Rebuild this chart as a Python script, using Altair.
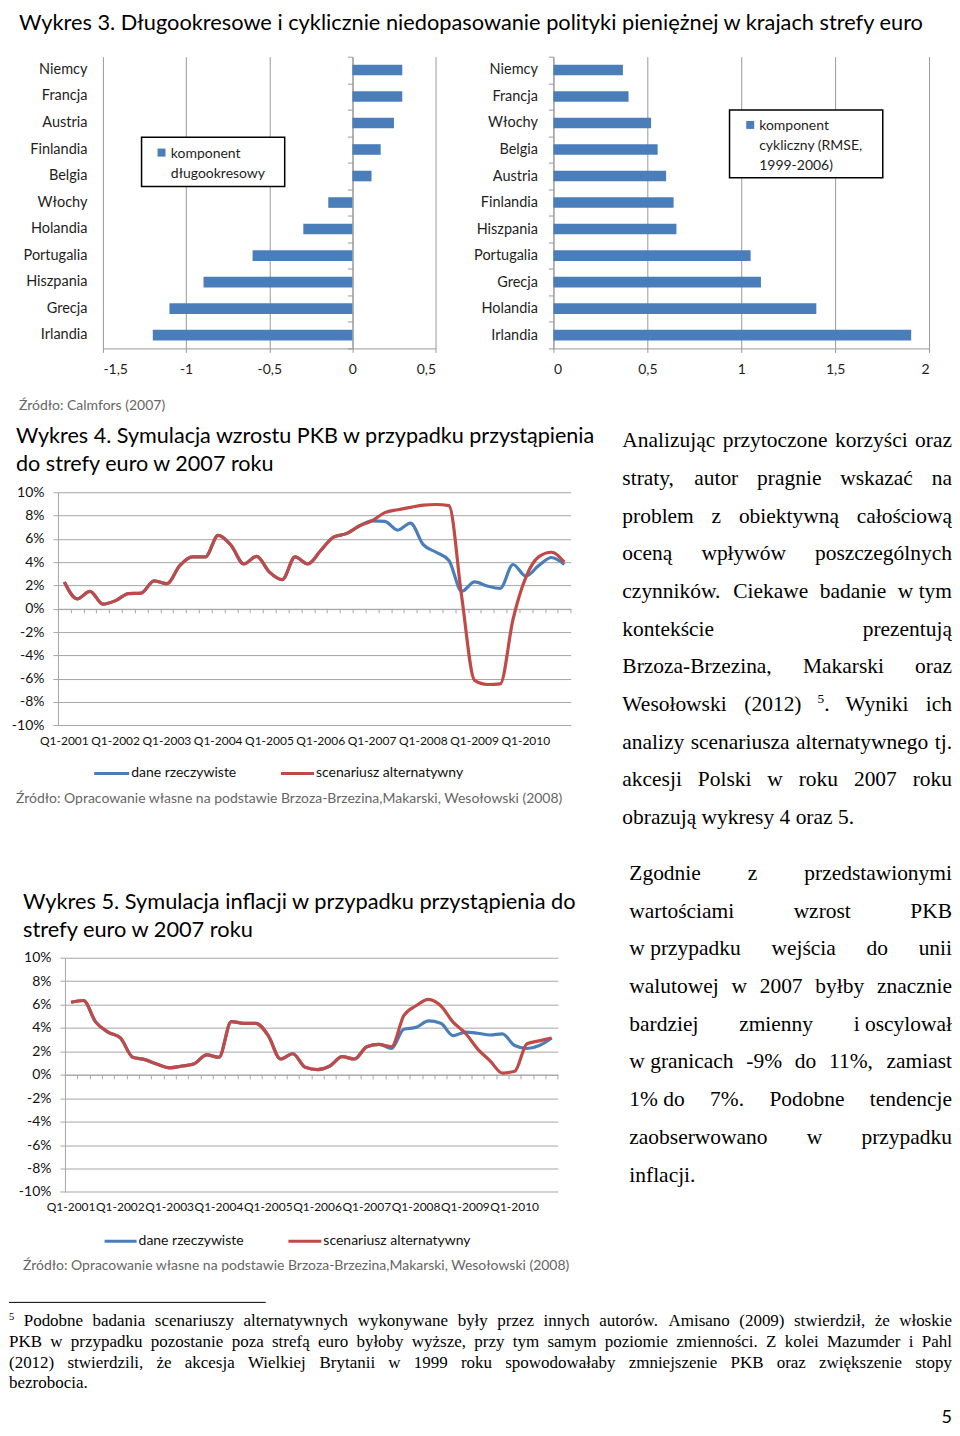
import altair as alt
import pandas as pd

# ---------------- data ----------------
TITLE3 = "Wykres 3. Długookresowe i cyklicznie niedopasowanie polityki pieniężnej w krajach strefy euro"
SOURCE3 = "Źródło: Calmfors (2007)"
TITLE4 = ["Wykres 4. Symulacja wzrostu PKB w przypadku przystąpienia", "do strefy euro w 2007 roku"]
TITLE5 = ["Wykres 5. Symulacja inflacji w przypadku przystąpienia do", "strefy euro w 2007 roku"]
SOURCE45 = "Źródło: Opracowanie własne na podstawie Brzoza-Brzezina,Makarski, Wesołowski (2008)"

countries_long = ["Niemcy", "Francja", "Austria", "Finlandia", "Belgia", "Włochy",
                  "Holandia", "Portugalia", "Hiszpania", "Grecja", "Irlandia"]
values_long = [0.30, 0.30, 0.25, 0.17, 0.115, -0.145, -0.295, -0.60, -0.895, -1.10, -1.20]
legend_long = ["komponent", "długookresowy"]
ticks_long = [-1.5, -1, -0.5, 0, 0.5]

countries_cyc = ["Niemcy", "Francja", "Włochy", "Belgia", "Austria", "Finlandia",
                 "Hiszpania", "Portugalia", "Grecja", "Holandia", "Irlandia"]
values_cyc = [0.37, 0.40, 0.52, 0.555, 0.60, 0.64, 0.655, 1.05, 1.105, 1.40, 1.905]
legend_cyc = ["komponent", "cykliczny (RMSE,", "1999-2006)"]
ticks_cyc = [0, 0.5, 1, 1.5, 2]

quarters = [f"Q{q}-{y}" for y in range(2001, 2011) for q in range(1, 5)]
quarter_labels = [f"Q1-{y}" for y in range(2001, 2011)]
pct_ticks = [-10, -8, -6, -4, -2, 0, 2, 4, 6, 8, 10]
SERIES = ["dane rzeczywiste", "scenariusz alternatywny"]

gdp_alt = [2.3, 0.85, 1.5, 0.4, 0.7, 1.3, 1.35, 2.4, 2.15, 3.7,
           4.45, 4.45, 6.3, 5.45, 3.85, 4.5, 3.15, 2.5, 4.45, 3.85,
           5.0, 6.15, 6.45, 7.1, 7.55, 8.25, 8.5, 8.7, 8.9, 8.95,
           8.85, 1.0, -6.15, -6.5, -6.45, -0.9, 2.7, 4.45, 4.85, 4.0]
gdp_act = [2.3, 0.85, 1.5, 0.4, 0.7, 1.3, 1.35, 2.4, 2.15, 3.7,
           4.45, 4.45, 6.3, 5.45, 3.85, 4.5, 3.15, 2.5, 4.45, 3.85,
           5.0, 6.15, 6.45, 7.1, 7.55, 7.5, 6.75, 7.35, 5.5, 4.85,
           4.15, 1.5, 2.3, 1.95, 1.75, 3.8, 2.8, 3.7, 4.4, 3.8]

infl_alt = [6.2, 6.35, 4.5, 3.65, 3.15, 1.5, 1.3, 0.9, 0.6, 0.75,
            0.95, 1.7, 1.5, 4.55, 4.4, 4.4, 3.35, 1.35, 1.8, 0.65,
            0.45, 0.75, 1.55, 1.35, 2.4, 2.6, 2.4, 5.05, 5.9, 6.45,
            5.9, 4.5, 3.55, 2.2, 1.2, 0.15, 0.3, 2.65, 2.9, 3.15]
infl_act = [6.2, 6.35, 4.5, 3.65, 3.15, 1.5, 1.3, 0.9, 0.6, 0.75,
            0.95, 1.7, 1.5, 4.55, 4.4, 4.4, 3.35, 1.35, 1.8, 0.65,
            0.45, 0.75, 1.55, 1.35, 2.4, 2.6, 2.25, 3.9, 4.05, 4.6,
            4.4, 3.35, 3.65, 3.55, 3.4, 3.5, 2.5, 2.25, 2.5, 3.15]

PARA1 = ["Analizując przytoczone korzyści oraz",
         "straty, autor pragnie wskazać na",
         "problem z obiektywną całościową",
         "oceną wpływów poszczególnych",
         "czynników. Ciekawe badanie w~tym",
         "kontekście prezentują",
         "Brzoza-Brzezina, Makarski oraz",
         "Wesołowski (2012) ^5. Wyniki ich",
         "analizy scenariusza alternatywnego tj.",
         "akcesji Polski w roku 2007 roku",
         "obrazują wykresy 4 oraz 5."]
PARA2 = ["Zgodnie z przedstawionymi",
         "wartościami wzrost PKB",
         "w~przypadku wejścia do unii",
         "walutowej w 2007 byłby znacznie",
         "bardziej zmienny i~oscylował",
         "w~granicach -9% do 11%, zamiast",
         "1%~do 7%. Podobne tendencje",
         "zaobserwowano w przypadku",
         "inflacji."]
FOOTNOTE = ["^5 Podobne badania scenariuszy alternatywnych wykonywane były przez innych autorów. Amisano (2009) stwierdził, że włoskie",
            "PKB w przypadku pozostanie poza strefą euro byłoby wyższe, przy tym samym poziomie zmienności. Z kolei Mazumder i Pahl",
            "(2012) stwierdzili, że akcesja Wielkiej Brytanii w 1999 roku spowodowałaby zmniejszenie PKB oraz zwiększenie stopy",
            "bezrobocia."]
PAGE_NO = "5"

# ---------------- styles ----------------
BLUE = "#4a7ebb"
RED = "#be4b48"
GRID_BAR = "#999999"
GRID_LINE = "#a6a6a6"
LABEL = "#1e1e1e"
SRC_GRAY = "#666666"
SANS = "Lato"
SERIF = "Liberation Serif"
M = 8  # page margin

# Times/Liberation Serif advance widths (1/1000 em) for text justification
TNR = {}
for ch, w in zip("abcdefghijklmnopqrstuvwxyz",
                 [444, 500, 444, 500, 444, 333, 500, 500, 278, 278, 500, 278, 778,
                  500, 500, 500, 500, 333, 389, 278, 500, 500, 722, 500, 500, 444]):
    TNR[ch] = w
for ch, w in zip("ABCDEFGHIJKLMNOPQRSTUVWXYZ",
                 [722, 667, 667, 722, 611, 556, 722, 722, 333, 389, 722, 611, 889,
                  722, 722, 556, 722, 667, 556, 611, 722, 722, 944, 722, 722, 611]):
    TNR[ch] = w
for ch in "0123456789":
    TNR[ch] = 500
TNR.update({" ": 250, ".": 250, ",": 250, "-": 333, "(": 333, ")": 333, "%": 833, ":": 278,
            "ą": 444, "ć": 444, "ę": 444, "ł": 278, "ń": 500, "ó": 500, "ś": 389,
            "ź": 444, "ż": 444, "Ł": 611, "Ś": 556, "Ż": 611, "Ź": 611})
SUP = 0.62


def tw(s, fs):
    return sum(TNR.get(c, 500) for c in s) * fs / 1000.0


def segments(tok):
    tok = tok.replace("~", " ")
    if tok.startswith("^"):
        i = 1
        while i < len(tok) and tok[i].isdigit():
            i += 1
        segs = [(tok[1:i], True)]
        if tok[i:]:
            segs.append((tok[i:], False))
        return segs
    return [(tok, False)]


def seg_width(segs, fs):
    return sum(tw(t, fs * SUP if sup else fs) for t, sup in segs)


def natural(line, fs):
    toks = line.split(" ")
    return sum(seg_width(segments(t), fs) for t in toks) + (len(toks) - 1) * tw(" ", fs)


def max_fs(lines, width, cap):
    return min(cap, 0.99 * min(width / natural(l, 1.0) for l in lines[:-1]))


def layout(lines, x0, x1, y0, lh, fs):
    rows = []
    for k, line in enumerate(lines):
        toks = line.split(" ")
        segs = [segments(t) for t in toks]
        widths = [seg_width(s, fs) for s in segs]
        if len(toks) > 1 and k < len(lines) - 1:
            gap = (x1 - x0 - sum(widths)) / (len(toks) - 1)
        else:
            gap = tw(" ", fs)
        x = x0
        y = y0 + k * lh
        for s, w in zip(segs, widths):
            xx = x
            for t, sup in s:
                size = fs * SUP if sup else fs
                rows.append({"t": t, "x": xx - M, "y": (y - fs * 0.36 if sup else y) - M, "s": size})
                xx += tw(t, size)
            x += w + gap
    return rows


# ---------------- text panel (whole page, free text) ----------------
PX = alt.Scale(domain=[0, 944], range=[0, 944])
PY = alt.Scale(domain=[0, 1420], range=[0, 1420])


def txt_enc():
    return dict(x=alt.X("x:Q", scale=PX, axis=None),
                y=alt.Y("y:Q", scale=PY, axis=None),
                text="t:N",
                size=alt.Size("s:Q", scale=None, legend=None))


sans_rows = []
for t, x, y, s, c in [(TITLE3, 18, 29, 21.8, "#000000"),
                      (SOURCE3, 18, 410, 14, SRC_GRAY),
                      (TITLE4[0], 15, 443, 21.6, "#000000"),
                      (TITLE4[1], 15, 471, 21.6, "#000000"),
                      (SOURCE45, 15, 803, 14, SRC_GRAY),
                      (TITLE5[0], 22, 909, 21.8, "#000000"),
                      (TITLE5[1], 22, 937, 21.8, "#000000"),
                      (SOURCE45, 22, 1271, 14, SRC_GRAY)]:
    sans_rows.append({"t": t, "x": x - M, "y": y - M, "s": s, "c": c})

sans_layer = alt.Chart(pd.DataFrame(sans_rows)).mark_text(
    align="left", baseline="alphabetic", font=SANS).encode(
    color=alt.Color("c:N", scale=None, legend=None), **txt_enc())

fs_par = max_fs(PARA1, 330, 22)
fs_foot = max_fs(FOOTNOTE, 944, 17)
serif_rows = (layout(PARA1, 622, 952, 447, 37.7, fs_par)
              + layout(PARA2, 629, 952, 880, 37.75, fs_par)
              + layout(FOOTNOTE, 8, 952, 1327, 20.7, fs_foot))
serif_layer = alt.Chart(pd.DataFrame(serif_rows)).mark_text(
    align="left", baseline="alphabetic", font=SERIF, color="#000000").encode(**txt_enc())

page_layer = alt.Chart(pd.DataFrame([{"t": PAGE_NO, "x": 952 - M, "y": 1424 - M, "s": 18}])).mark_text(
    align="right", baseline="alphabetic", font=SANS, color="#000000").encode(**txt_enc())

rule_layer = alt.Chart(pd.DataFrame([{"x": 8 - M, "x2": 265 - M, "y": 1303 - M}])).mark_rule(
    color="#000000", strokeWidth=1).encode(
    x=alt.X("x:Q", scale=PX, axis=None), x2="x2:Q", y=alt.Y("y:Q", scale=PY, axis=None))

text_panel = alt.layer(sans_layer, serif_layer, page_layer, rule_layer).properties(width=944, height=48)


# ---------------- bar charts ----------------
def legend_box(lines, box, sq, tx, ty):
    """Boxed legend drawn inside the plot (box = x0, y0, x1, y1 in plot pixels)."""
    one = pd.DataFrame({"v": [0]})
    frame = alt.Chart(one).mark_rect(fill="#ffffff", stroke="#000000", strokeWidth=1.5).encode(
        x=alt.value(box[0]), x2=alt.value(box[2]), y=alt.value(box[1]), y2=alt.value(box[3]))
    square = alt.Chart(one).mark_square(size=64, color=BLUE, opacity=1).encode(
        x=alt.value(sq[0]), y=alt.value(sq[1]))
    label = alt.Chart(one).mark_text(
        align="left", baseline="alphabetic", font=SANS, fontSize=14, color=LABEL,
        lineBreak="|", lineHeight=20).encode(
        x=alt.value(tx), y=alt.value(ty), text=alt.value("|".join(lines)))
    return [frame, square, label]


def bar_chart(countries, values, legend_lines, domain, ticks, w, h, box, sq, tx, ty, zero_offset=None):
    df = pd.DataFrame({"kraj": countries, "wartość": values})
    xenc = alt.X("wartość:Q", scale=alt.Scale(domain=domain, nice=False),
                 axis=alt.Axis(values=ticks, labelExpr="replace(toString(datum.value), '.', ',')",
                               title=None, grid=True, gridColor=GRID_BAR, domain=True,
                               domainColor=GRID_BAR, ticks=True, tickColor=GRID_BAR, tickSize=4,
                               labelPadding=10, labelFontSize=14, labelColor=LABEL, labelFont=SANS))
    yscale = alt.Scale(paddingInner=0, paddingOuter=0)
    if zero_offset is None:
        yaxis = alt.Axis(orient="left", title=None, labels=True, ticks=True, tickBand="extent",
                         tickSize=5, tickColor=GRID_BAR, domain=True, domainColor=GRID_BAR,
                         grid=False, labelPadding=11, labelFontSize=14.5, labelColor=LABEL,
                         labelFont=SANS)
    else:
        yaxis = alt.Axis(orient="left", title=None, labels=True, ticks=False, domain=False,
                         grid=False, labelPadding=16, labelFontSize=14.5, labelColor=LABEL,
                         labelFont=SANS)
    bars = alt.Chart(df).mark_bar(height={"band": 0.4}, color=BLUE).encode(
        x=xenc, y=alt.Y("kraj:N", sort=countries, scale=yscale, axis=yaxis))
    layers = [bars]
    if zero_offset is not None:
        axis0 = alt.Chart(df).mark_bar(height={"band": 0.4}, opacity=0).encode(
            x=xenc,
            y=alt.Y("kraj:N", sort=countries, scale=yscale,
                    axis=alt.Axis(orient="left", offset=-zero_offset, title=None, labels=False,
                                  ticks=True, tickBand="extent", tickSize=5, tickColor=GRID_BAR,
                                  domain=True, domainColor=GRID_BAR, grid=False)))
        layers.append(axis0)
    layers += legend_box(legend_lines, box, sq, tx, ty)
    ch = alt.layer(*layers)
    if zero_offset is not None:
        ch = ch.resolve_axis(y="independent")
    return ch.properties(width=w, height=h)


bar1 = bar_chart(countries_long, values_long, legend_long, [-1.5, 0.5], ticks_long, 333, 292,
                 box=(38.7, 80.7, 182, 130), sq=(58.7, 96), tx=68, ty=101,
                 zero_offset=333 * 1.5 / 2.0)
bar2 = bar_chart(countries_cyc, values_cyc, legend_cyc, [0, 2], ticks_cyc, 376, 292,
                 box=(176.3, 53.3, 329.7, 121.3), sq=(197, 68.3), tx=206, ty=73)


# ---------------- line charts ----------------
def series_key(spec):
    """Line-sample legend under the plot: spec = list of (colour, x0, x1, y, label)."""
    one = pd.DataFrame({"v": [0]})
    out = []
    for colour, x0, x1, y, lab in spec:
        out.append(alt.Chart(one).mark_rule(color=colour, strokeWidth=3).encode(
            x=alt.value(x0), x2=alt.value(x1), y=alt.value(y)))
        out.append(alt.Chart(one).mark_text(
            align="left", baseline="middle", font=SANS, fontSize=14, color="#111111").encode(
            x=alt.value(x1 + 2), y=alt.value(y), text=alt.value(lab)))
    return out


def line_chart(actual, alternative, w, h, key):
    n = len(quarters)
    df = pd.DataFrame({"kwartał": quarters * 2,
                       "seria": [SERIES[0]] * n + [SERIES[1]] * n,
                       "wartość": list(actual) + list(alternative)})
    xscale = alt.Scale(type="band", paddingInner=0, paddingOuter=0)
    yenc = alt.Y("wartość:Q", scale=alt.Scale(domain=[-10, 10], nice=False),
                 axis=alt.Axis(values=pct_ticks, labelExpr="datum.value + '%'", title=None,
                               grid=True, gridColor=GRID_LINE, domain=True, domainColor=GRID_LINE,
                               ticks=True, tickColor=GRID_LINE, tickSize=5, labelPadding=9,
                               labelFontSize=14, labelColor="#111111", labelFont=SANS))
    lines = alt.Chart(df).mark_line(strokeWidth=3.2, interpolate="monotone").encode(
        x=alt.X("kwartał:N", sort=quarters, scale=xscale, bandPosition=0.5,
                axis=alt.Axis(values=quarter_labels, title=None, labelAngle=0, ticks=False,
                              domain=False, grid=False, labelPadding=10, labelFontSize=12,
                              labelColor="#111111", labelFont=SANS, labelOverlap=False)),
        y=yenc,
        color=alt.Color("seria:N", scale=alt.Scale(domain=SERIES, range=[BLUE, RED]), legend=None))
    axis0 = alt.Chart(df).mark_line(opacity=0).encode(
        x=alt.X("kwartał:N", sort=quarters, scale=xscale,
                axis=alt.Axis(orient="bottom", offset=-h / 2.0, title=None, labels=False,
                              ticks=True, tickBand="extent", tickSize=4, tickColor=GRID_LINE,
                              domain=True, domainColor=GRID_LINE, grid=False)),
        y=yenc)
    return alt.layer(lines, axis0, *series_key(key)).resolve_axis(x="independent").properties(
        width=w, height=h)


chart4 = line_chart(gdp_act, gdp_alt, 513.3, 233.3,
                    [(BLUE, 36.3, 71.3, 281.5, SERIES[0]), (RED, 223.3, 256.3, 281.5, SERIES[1])])
chart5 = line_chart(infl_act, infl_alt, 493.4, 234.4,
                    [(BLUE, 39.7, 71.7, 283.7, SERIES[0]), (RED, 223.7, 256.7, 283.7, SERIES[1])])


def spacer(w, h):
    return alt.Chart(pd.DataFrame({"v": [0]})).mark_rect(opacity=0).encode(
        x=alt.value(0), x2=alt.value(0), y=alt.value(0), y2=alt.value(0)).properties(width=w, height=h)


def row(*items):
    return alt.hconcat(*items, spacing=0, bounds="flush")


# With flush bounds a nested row adds no height of its own, so the spacer rows carry the
# full vertical distance between the tops of consecutive chart rows.
page = alt.vconcat(
    text_panel,                                               # page y 8 .. 56
    row(spacer(94, 292), bar1, spacer(118, 292), bar2),       # plot top at page y 56
    spacer(1, 435.7),
    row(spacer(48.7, 233.3), chart4),                         # plot top at page y 491.7
    spacer(1, 465.6),
    row(spacer(55.3, 234.4), chart5),                         # plot top at page y 957.3
    spacing=0, bounds="flush",
).properties(padding=0).configure(font=SANS).configure_view(stroke="transparent", strokeWidth=0)

chart = page
chart.save("out.html", embed_options={"renderer": "svg", "actions": False})
